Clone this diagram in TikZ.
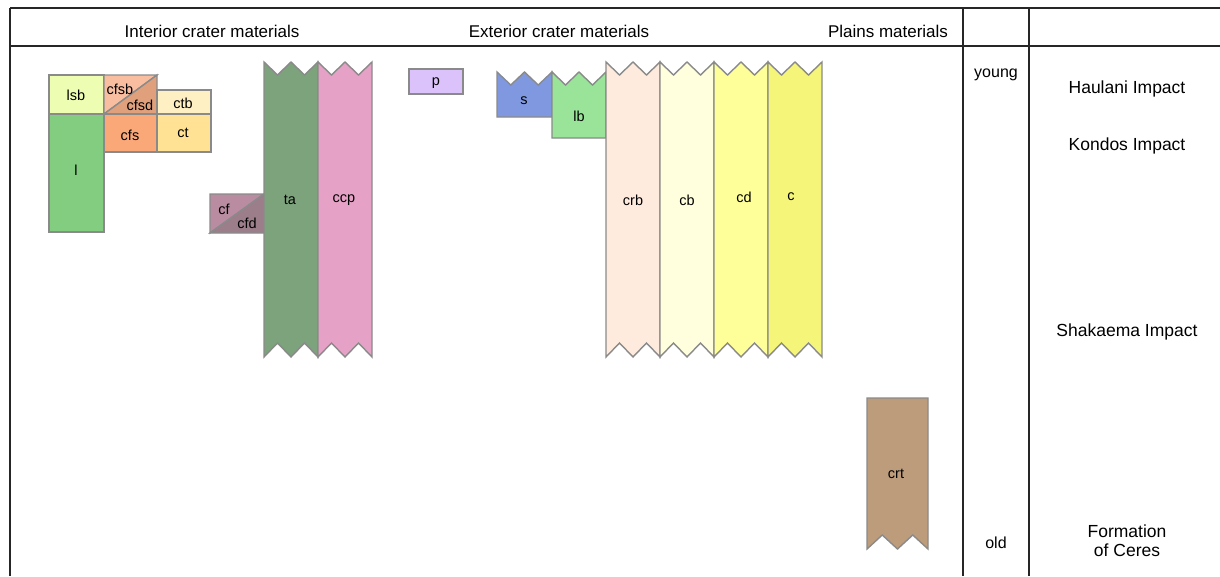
\documentclass[tikz,border=0pt]{standalone}
\usepackage{fontspec}
\setmainfont{Liberation Sans}
\usetikzlibrary{calc}

% unit colours
\definecolor{clsb}{HTML}{EDFDB2}
\definecolor{cl}{HTML}{82CD7F}
\definecolor{ccfsb}{HTML}{F9BEA0}
\definecolor{ccfsd}{HTML}{E0A07C}
\definecolor{cctb}{HTML}{FFF0C4}
\definecolor{ccfs}{HTML}{FBA878}
\definecolor{cct}{HTML}{FFE294}
\definecolor{ccf}{HTML}{B98CA2}
\definecolor{ccfd}{HTML}{9B7E8A}
\definecolor{cta}{HTML}{7CA37B}
\definecolor{cccp}{HTML}{E5A2C6}
\definecolor{cp}{HTML}{DCC2FB}
\definecolor{cs}{HTML}{7F98E0}
\definecolor{clb}{HTML}{99E499}
\definecolor{ccrb}{HTML}{FFEBDD}
\definecolor{ccb}{HTML}{FFFFDD}
\definecolor{ccd}{HTML}{FFFF99}
\definecolor{cc}{HTML}{F5F57A}
\definecolor{ccrt}{HTML}{BD9C7C}
\definecolor{edge}{HTML}{8A8A8A}

\tikzset{
  unit/.style={draw=edge, line width=1.4pt, line join=miter},
  grid/.style={draw=black!85, line width=1.3pt},
  lab/.style={font=\fontsize{14.5}{16}\selectfont, inner sep=0pt},
  head/.style={font=\fontsize{17}{19}\selectfont, inner sep=0pt},
  age/.style={font=\fontsize{16}{18}\selectfont, inner sep=0pt},
  side/.style={font=\fontsize{17.5}{19}\selectfont, inner sep=0pt, align=center},
}

% column with zigzag ends: fill, x-left, x-right, y-top, y-bottom, top notch, bottom notch
\newcommand{\zigcol}[7]{%
  \pgfmathsetmacro\zqa{#2+(#3-#2)/4}%
  \pgfmathsetmacro\zqm{#2+(#3-#2)/2}%
  \pgfmathsetmacro\zqb{#2+3*(#3-#2)/4}%
  \filldraw[unit, fill=#1] (#2,#4) -- (\zqa,#4+#6) -- (\zqm,#4) -- (\zqb,#4+#6) -- (#3,#4)
    -- (#3,#5) -- (\zqb,#5-#7) -- (\zqm,#5) -- (\zqa,#5-#7) -- (#2,#5) -- cycle;}

\begin{document}
\begin{tikzpicture}[x=1pt,y=-1pt]
\useasboundingbox (0,0) rectangle (1220,576);

% table frame
\draw[grid] (10,8) -- (1220,8);
\draw[grid] (10,46) -- (1220,46);
\draw[grid] (10,8) -- (10,576);
\draw[grid] (963,8) -- (963,576);
\draw[grid] (1029,8) -- (1029,576);

\node[head] (hint) at (212,31) {Interior crater materials};
\node[head] (hext) at (559,31) {Exterior crater materials};
\node[head] (hpla) at (888,31) {Plains materials};

% interior crater units
\filldraw[unit, fill=clsb] (49,75) rectangle (104,114);
\filldraw[unit, fill=cl] (49,114) rectangle (104,232);
\filldraw[unit, fill=ccfsb] (104,114) -- (104,75) -- (157,75) -- cycle;
\filldraw[unit, fill=ccfsd] (104,114) -- (157,75) -- (157,114) -- cycle;
\filldraw[unit, fill=cctb] (157,90) rectangle (211,114);
\filldraw[unit, fill=ccfs] (104,114) rectangle (157,152);
\filldraw[unit, fill=cct] (157,114) rectangle (211,152);
\filldraw[unit, fill=ccf] (210,233) -- (210,194) -- (264,194) -- cycle;
\filldraw[unit, fill=ccfd] (210,233) -- (264,194) -- (264,233) -- cycle;
\zigcol{cta}{264}{318}{62}{357}{13}{14}
\zigcol{cccp}{318}{372}{62}{357}{13}{14}

% exterior crater units
\filldraw[unit, fill=cp] (409,69) rectangle (463,94);
\zigcol{cs}{497}{552}{72}{117}{13}{0}
\zigcol{clb}{552}{606}{72}{138}{13}{0}
\zigcol{ccrb}{606}{660}{62}{357}{13}{14}
\zigcol{ccb}{660}{714}{62}{357}{13}{14}
\zigcol{ccd}{714}{768}{62}{357}{13}{14}
\zigcol{cc}{768}{822}{62}{357}{13}{14}

% plains unit
\zigcol{ccrt}{867}{928}{398}{549}{0}{14}

% unit labels
\node[lab] (lsb)  at (76,95)   {lsb};
\node[lab] (l)    at (76,170)  {l};
\node[lab] (cfsb) at (120,89)  {cfsb};
\node[lab] (cfsd) at (140,105) {cfsd};
\node[lab] (ctb)  at (183,103) {ctb};
\node[lab] (cfs)  at (130,135) {cfs};
\node[lab] (ct)   at (183,133) {ct};
\node[lab] (cf)   at (224,209) {cf};
\node[lab] (cfd)  at (247,223) {cfd};
\node[lab] (ta)   at (290,200) {ta};
\node[lab] (ccp)  at (344,200) {ccp};
\node[lab] (p)    at (436,83)  {p};
\node[lab] (s)    at (524,101) {s};
\node[lab] (lb)   at (579,116) {lb};
\node[lab] (crb)  at (633,200) {crb};
\node[lab] (cb)   at (687,200) {cb};
\node[lab] (cd)   at (744,197) {cd};
\node[lab] (c)    at (791,197) {c};
\node[lab] (crt)  at (896,474) {crt};

% age and events
\node[age] (young) at (996,75)  {young};
\node[age] (old)   at (996,543) {old};
\node[side] (haul)  at (1127,89)  {Haulani Impact};
\node[side] (kond)  at (1127,146) {Kondos Impact};
\node[side] (shak)  at (1127,332) {Shakaema Impact};
\node[side] (form)  at (1127,541) {Formation\\of Ceres};
\end{tikzpicture}
\end{document}
